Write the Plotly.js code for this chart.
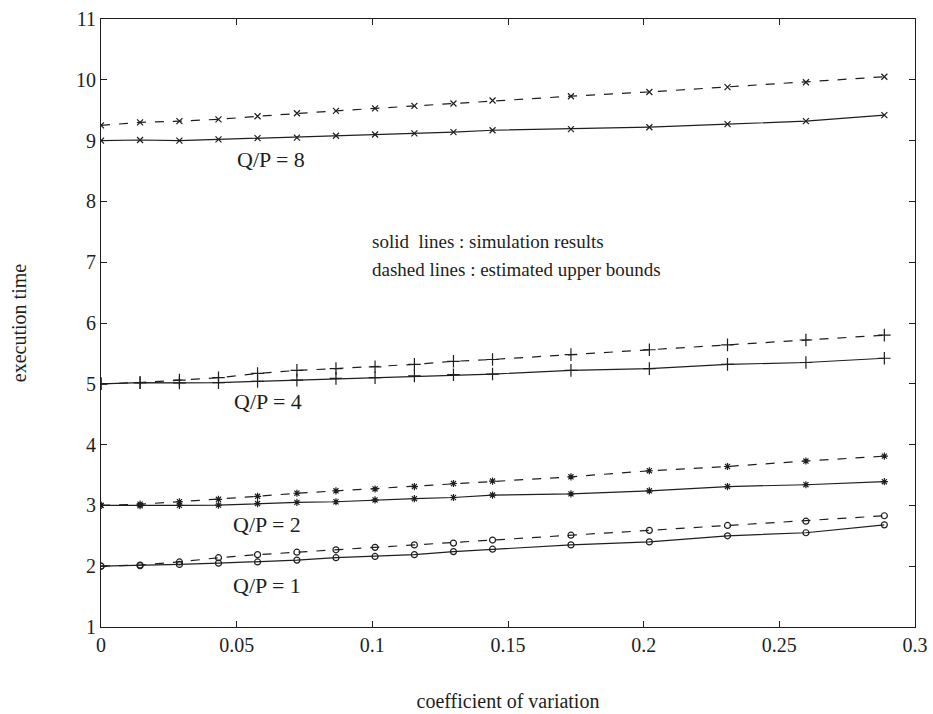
<!DOCTYPE html>
<html>
<head>
<meta charset="utf-8">
<script src="https://cdn.plot.ly/plotly-3.0.1.min.js"></script>
<style>html,body{margin:0;padding:0;background:#fff;}#chart{width:933px;height:714px;}</style>
</head>
<body>
<div id="chart"></div>
<script>
// coefficient of variation values (x)
const cv = [0, 0.0144, 0.0289, 0.0433, 0.0577, 0.0722, 0.0866, 0.1010, 0.1155, 0.1299, 0.1443, 0.1732, 0.2021, 0.2309, 0.2598, 0.2887];

// simulation results (solid)
const sim8 = [9.00, 9.01, 9.00, 9.02, 9.04, 9.05, 9.08, 9.10, 9.12, 9.14, 9.17, 9.19, 9.22, 9.27, 9.32, 9.42];
const sim4 = [5.00, 5.02, 5.015, 5.02, 5.04, 5.06, 5.09, 5.10, 5.13, 5.15, 5.16, 5.22, 5.25, 5.32, 5.35, 5.42];
const sim2 = [3.00, 2.995, 3.00, 3.005, 3.03, 3.05, 3.06, 3.09, 3.11, 3.13, 3.17, 3.19, 3.24, 3.31, 3.34, 3.39];
const sim1 = [2.00, 2.01, 2.03, 2.05, 2.07, 2.10, 2.14, 2.16, 2.19, 2.24, 2.28, 2.35, 2.40, 2.50, 2.55, 2.68];

// estimated upper bounds (dashed)
const est8 = [9.25, 9.30, 9.32, 9.35, 9.40, 9.45, 9.49, 9.53, 9.57, 9.61, 9.66, 9.73, 9.80, 9.88, 9.96, 10.05];
const est4 = [5.00, 5.02, 5.06, 5.10, 5.17, 5.22, 5.25, 5.28, 5.32, 5.37, 5.40, 5.48, 5.56, 5.64, 5.72, 5.80];
const est2 = [3.00, 3.02, 3.06, 3.10, 3.15, 3.20, 3.24, 3.27, 3.31, 3.36, 3.40, 3.47, 3.57, 3.64, 3.73, 3.81];
const est1 = [2.00, 2.02, 2.07, 2.14, 2.19, 2.23, 2.27, 2.31, 2.35, 2.38, 2.43, 2.51, 2.59, 2.67, 2.74, 2.83];

const xTicks = [0, 0.05, 0.1, 0.15, 0.2, 0.25, 0.3];
const xTickText = ['0', '0.05', '0.1', '0.15', '0.2', '0.25', '0.3'];
const yTicks = [1, 2, 3, 4, 5, 6, 7, 8, 9, 10, 11];

const ink = '#1e1e1e';
const serif = 'Liberation Serif, Times New Roman, serif';

function tr(y, dash, symbol, size) {
  return {
    x: cv, y: y, type: 'scatter', mode: 'lines+markers',
    line: {color: ink, width: 1.2, dash: dash},
    marker: {symbol: symbol, size: size, color: ink, line: {color: ink, width: 1.2}},
    showlegend: false, hoverinfo: 'x+y'
  };
}

const data = [
  tr(sim8, 'solid', 'x-thin-open', 6),
  tr(est8, 'dash', 'x-thin-open', 6),
  tr(sim4, 'solid', 'cross-thin-open', 9),
  tr(est4, 'dash', 'cross-thin-open', 9),
  tr(sim2, 'solid', 'asterisk-open', 6),
  tr(est2, 'dash', 'asterisk-open', 6),
  tr(sim1, 'solid', 'circle-open', 6),
  tr(est1, 'dash', 'circle-open', 6)
];

const axisCommon = {
  showline: true, linecolor: ink, linewidth: 1, mirror: 'ticks',
  ticks: 'inside', ticklen: 6, tickwidth: 1, tickcolor: ink,
  showgrid: false, zeroline: false,
  tickfont: {family: serif, size: 20, color: ink}
};

const layout = {
  width: 933, height: 714,
  margin: {l: 101, r: 18, t: 19, b: 87},
  paper_bgcolor: '#fff', plot_bgcolor: '#fff',
  font: {family: serif, color: ink},
  xaxis: Object.assign({}, axisCommon, {
    range: [0, 0.3], tickvals: xTicks, ticktext: xTickText,
    title: {text: 'coefficient of variation', font: {family: serif, size: 20, color: ink}, standoff: 38}
  }),
  yaxis: Object.assign({}, axisCommon, {
    range: [1, 11], tickvals: yTicks,
    title: {text: 'execution time', font: {family: serif, size: 20, color: ink}, standoff: 44}
  }),
  annotations: [
    {x: 0.0625, y: 8.69, text: 'Q/P = 8', showarrow: false, font: {family: serif, size: 22, color: ink}},
    {x: 0.0615, y: 4.71, text: 'Q/P = 4', showarrow: false, font: {family: serif, size: 22, color: ink}},
    {x: 0.0612, y: 2.68, text: 'Q/P = 2', showarrow: false, font: {family: serif, size: 22, color: ink}},
    {x: 0.0610, y: 1.69, text: 'Q/P = 1', showarrow: false, font: {family: serif, size: 22, color: ink}},
    {x: 0.099, y: 7.34, xanchor: 'left', text: 'solid  lines : simulation results', showarrow: false, font: {family: serif, size: 19, color: ink}},
    {x: 0.099, y: 6.88, xanchor: 'left', text: 'dashed lines : estimated upper bounds', showarrow: false, font: {family: serif, size: 19, color: ink}}
  ]
};

Plotly.newPlot('chart', data, layout, {displayModeBar: false, staticPlot: true});
</script>
</body>
</html>
